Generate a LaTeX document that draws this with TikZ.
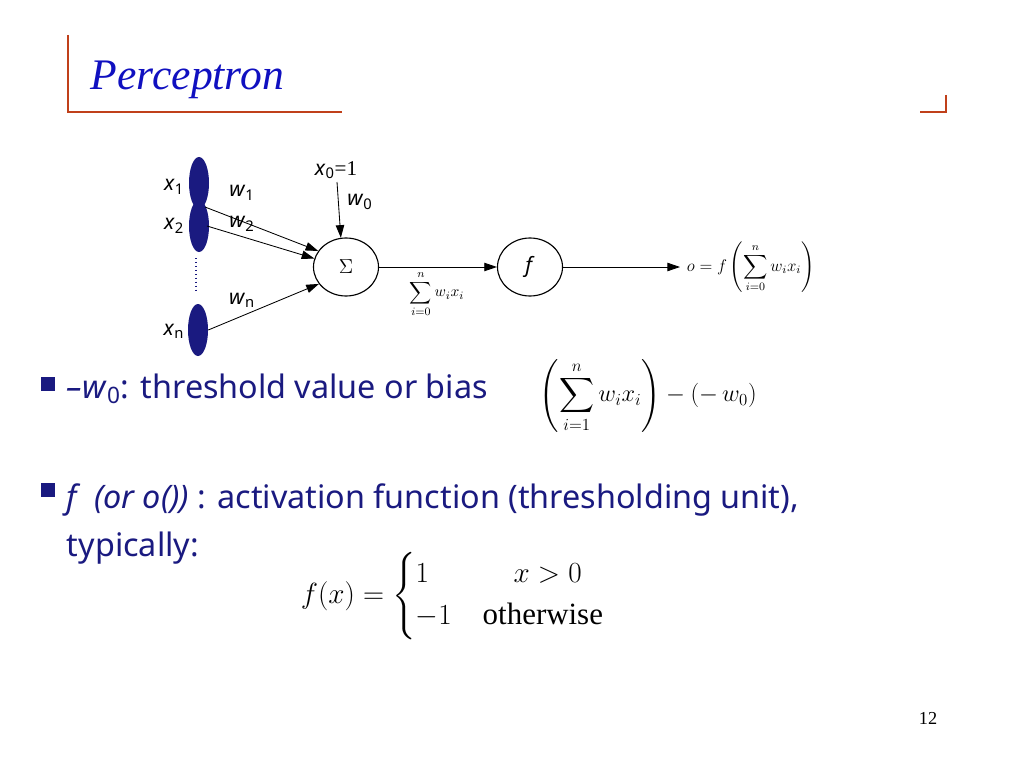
\documentclass[tikz,border=0pt]{standalone}
\usepackage{amsmath}
\usepackage{fontspec}
\setmainfont{Noto Sans}
\newfontfamily\serif{Liberation Serif}
\usepackage{xcolor}
\definecolor{navy}{HTML}{1A1A80}
\definecolor{rust}{HTML}{C0401A}
\definecolor{titleblue}{HTML}{1010C0}
\usetikzlibrary{arrows.meta,shapes.geometric}

\newcommand{\var}[2]{\textit{#1}\textsubscript{#2}}

\begin{document}
\begin{tikzpicture}[x=0.025cm,y=-0.025cm,
	inp/.style={ellipse,draw=none,fill=navy,minimum width=20*0.025cm,minimum height=52*0.025cm,inner sep=0},
	unit/.style={ellipse,draw,thick,minimum width=65*0.025cm,minimum height=58*0.025cm,font=\fontsize{15}{15}\selectfont},
	lbl/.style={font=\fontsize{15}{15}\selectfont},
	arr/.style={-{Triangle[length=9pt,width=6pt]},semithick},
	bul/.style={fill=navy,minimum size=10pt,inner sep=0},
	body/.style={text=navy,font=\fontsize{23}{26}\selectfont,anchor=base west}]
	\useasboundingbox (0,0) rectangle (1024,768);
	
	% title frame
	\draw[rust,thick] (68,35) -- (68,112) -- (342,112);
	\draw[rust,thick] (946,95) -- (946,112) -- (920,112);
	\node[anchor=west,text=titleblue,font=\serif\itshape\fontsize{31}{31}\selectfont] (title) at (86,80) {Perceptron};
	
	% inputs
	\node[inp] (x1) at (199,183) {};
	\node[inp] (x2) at (199,226) {};
	\node[inp] (xn) at (198,330) {};
	\draw[navy,thick,dotted] (196,258) -- (196,292);
	\node[lbl] at (174,187) {\var{x}{1}};
	\node[lbl] at (174,226) {\var{x}{2}};
	\node[lbl] at (174,331) {\var{x}{n}};
	
	% units
	\node[unit] (sum) at (346,267) {$\Sigma$};
	\node[unit] (act) at (530,267) {\textit{f}};
	\coordinate (bias) at (337,182);
	\coordinate (out) at (680,267);
	
	\draw[arr] (205,207) -- (sum.150);
	\draw[arr] (207,226) -- (sum.165);
	\draw[arr] (xn.east) -- (sum.212);
	\draw[arr] (bias) -- (sum.100);
	\draw[arr] (sum) -- (act);
	\draw[arr] (act) -- (out);
	
	\node[lbl] at (242,193) {\var{w}{1}};
	\node[lbl] at (242,224) {\var{w}{2}};
	\node[lbl] at (242,300) {\var{w}{n}};
	\node[lbl] at (336,170) {\var{x}{0}{\serif=1}};
	\node[lbl] at (360,202) {\var{w}{0}};
	\node[font=\fontsize{11}{11}\selectfont] at (437,294) {$\displaystyle\sum_{i=0}^{n} w_i x_i$};
	\node[anchor=west,font=\fontsize{12}{12}\selectfont] at (682,267) {$o = f\left(\displaystyle\sum_{i=0}^{n} w_i x_i\right)$};
	
	% bullets
	\node[bul] (b1) at (48,384) {};
	\node[body] at (62,398) {\textit{--w}\textsubscript{0}: threshold value or bias};
	\node[font=\fontsize{17}{17}\selectfont,anchor=west] at (535,396) {$\left(\displaystyle\sum_{i=1}^{n} w_i x_i\right) - (-\,w_0)$};
	\node[bul] (b2) at (48,490) {};
	\node[body] at (62,508) {\textit{f\ \ (or o())} : activation function (thresholding unit),};
	\node[body] at (62,556) {typically:};
	\node[font=\fontsize{22}{22}\selectfont,anchor=west] at (296,596) {$f(x) = \begin{cases} 1 & \quad x > 0\\[4pt] -1 & \text{\serif otherwise}\end{cases}$};
	
	\node[font=\serif\fontsize{13}{13}\selectfont] (page) at (928,718) {12};
\end{tikzpicture}
\end{document}
